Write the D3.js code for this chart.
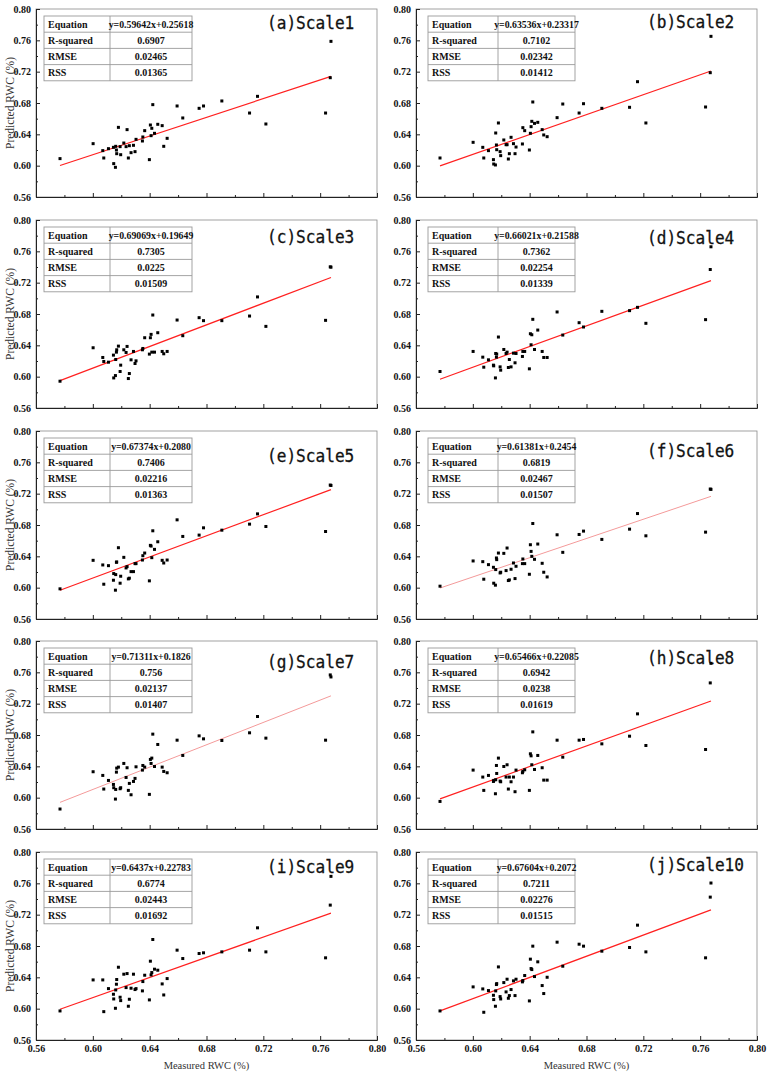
<!DOCTYPE html>
<html>
<head>
<meta charset="utf-8">
<script src="https://cdn.jsdelivr.net/npm/d3@7"></script>
<style>
  body { margin: 0; background: #fff; }
</style>
</head>
<body>
<svg id="chart"></svg>
<script>
// measured RWC, shared by all ten panels
const measured = [0.5769, 0.6002, 0.6070, 0.6077, 0.6110, 0.6145, 0.6147, 0.6159, 0.6161, 0.6166,
  0.6168, 0.6180, 0.6192, 0.6196, 0.6218, 0.6234, 0.6241, 0.6250, 0.6257, 0.6269,
  0.6286, 0.6297, 0.6304, 0.6349, 0.6352, 0.6365, 0.6398, 0.6405, 0.6410, 0.6415,
  0.6422, 0.6434, 0.6457, 0.6488, 0.6499, 0.6523, 0.6593, 0.6633, 0.6748, 0.6779,
  0.6908, 0.7103, 0.7159, 0.7218, 0.7638, 0.7671, 0.7676]

// predicted RWC per scale
const predA = [0.6090, 0.6281, 0.6192, 0.6098, 0.6217, 0.6234, 0.6026, 0.5979, 0.6247, 0.6200,
  0.6153, 0.6489, 0.6243, 0.6140, 0.6289, 0.6243, 0.6460, 0.6098, 0.6255, 0.6166,
  0.6260, 0.6179, 0.6336, 0.6315, 0.6366, 0.6447, 0.6077, 0.6519, 0.6383, 0.6477,
  0.6779, 0.6413, 0.6528, 0.6511, 0.6247, 0.6349, 0.6762, 0.6609, 0.6732, 0.6762,
  0.6826, 0.6672, 0.6885, 0.6532, 0.6672, 0.7123, 0.7587]
const predB = [0.6098, 0.6298, 0.6234, 0.6098, 0.6192, 0.6077, 0.6021, 0.6009, 0.6417, 0.6264,
  0.6204, 0.6545, 0.6179, 0.6128, 0.6328, 0.6268, 0.6268, 0.6085, 0.6153, 0.6362,
  0.6281, 0.6153, 0.6238, 0.6277, 0.6485, 0.6447, 0.6200, 0.6413, 0.6498, 0.6566,
  0.6813, 0.6540, 0.6553, 0.6460, 0.6392, 0.6370, 0.6613, 0.6787, 0.6672, 0.6791,
  0.6732, 0.6745, 0.7072, 0.6545, 0.6749, 0.7187, 0.7651]
const predC = [0.5942, 0.6369, 0.6245, 0.6194, 0.6185, 0.6275, 0.5984, 0.6014, 0.6219, 0.6313,
  0.6343, 0.6390, 0.6066, 0.6147, 0.6343, 0.6309, 0.6386, 0.5976, 0.6040, 0.6215,
  0.6322, 0.6168, 0.6202, 0.6343, 0.6360, 0.6497, 0.6288, 0.6497, 0.6540, 0.6313,
  0.6787, 0.6313, 0.6561, 0.6322, 0.6292, 0.6322, 0.6723, 0.6523, 0.6753, 0.6715,
  0.6715, 0.6774, 0.7018, 0.6642, 0.6719, 0.7402, 0.7398]
const predD = [0.6066, 0.6322, 0.6249, 0.6121, 0.6215, 0.6147, 0.6138, 0.5984, 0.6296, 0.6249,
  0.6288, 0.6506, 0.6125, 0.6083, 0.6347, 0.6296, 0.6313, 0.6117, 0.6219, 0.6125,
  0.6300, 0.6177, 0.6296, 0.6258, 0.6322, 0.6322, 0.6100, 0.6548, 0.6407, 0.6535,
  0.6732, 0.6347, 0.6595, 0.6322, 0.6245, 0.6245, 0.6826, 0.6531, 0.6689, 0.6634,
  0.6834, 0.6843, 0.6885, 0.6681, 0.6728, 0.7368, 0.7658]
const predE = [0.5985, 0.6349, 0.6290, 0.6044, 0.6281, 0.6095, 0.6180, 0.5968, 0.6167, 0.6324,
  0.6328, 0.6510, 0.6057, 0.6146, 0.6387, 0.6252, 0.6269, 0.6112, 0.6121, 0.6205,
  0.6205, 0.6307, 0.6307, 0.6353, 0.6408, 0.6442, 0.6087, 0.6540, 0.6531, 0.6383,
  0.6726, 0.6489, 0.6586, 0.6349, 0.6315, 0.6353, 0.6866, 0.6654, 0.6671, 0.6764,
  0.6734, 0.6811, 0.6942, 0.6781, 0.6717, 0.7310, 0.7305]
const predF = [0.6019, 0.6341, 0.6332, 0.6108, 0.6294, 0.6260, 0.6057, 0.6032, 0.6231, 0.6379,
  0.6358, 0.6442, 0.6188, 0.6197, 0.6438, 0.6218, 0.6506, 0.6091, 0.6099, 0.6235,
  0.6315, 0.6116, 0.6273, 0.6307, 0.6366, 0.6307, 0.6171, 0.6548, 0.6463, 0.6400,
  0.6819, 0.6362, 0.6557, 0.6311, 0.6197, 0.6137, 0.6675, 0.6451, 0.6679, 0.6722,
  0.6616, 0.6747, 0.6946, 0.6662, 0.6709, 0.7259, 0.7255]
const predG = [0.5855, 0.6331, 0.6284, 0.6110, 0.6220, 0.6169, 0.6127, 0.5982, 0.6105, 0.6326,
  0.6377, 0.6390, 0.6114, 0.6127, 0.6437, 0.6258, 0.6382, 0.6093, 0.6182, 0.6037,
  0.6207, 0.6246, 0.6394, 0.6352, 0.6411, 0.6390, 0.6042, 0.6488, 0.6437, 0.6505,
  0.6811, 0.6398, 0.6679, 0.6390, 0.6335, 0.6318, 0.6734, 0.6539, 0.6789, 0.6751,
  0.6730, 0.6828, 0.7036, 0.6760, 0.6734, 0.7567, 0.7541]
const predH = [0.5952, 0.6352, 0.6263, 0.6093, 0.6284, 0.6207, 0.6220, 0.6050, 0.6229, 0.6411,
  0.6309, 0.6505, 0.6212, 0.6203, 0.6398, 0.6263, 0.6420, 0.6110, 0.6263, 0.6203,
  0.6263, 0.6076, 0.6352, 0.6318, 0.6335, 0.6356, 0.6093, 0.6560, 0.6534, 0.6420,
  0.6840, 0.6360, 0.6539, 0.6382, 0.6224, 0.6224, 0.6734, 0.6517, 0.6734, 0.6743,
  0.6687, 0.6785, 0.7070, 0.6666, 0.6615, 0.7465, 0.7715]
const predI = [0.5971, 0.6367, 0.6367, 0.5962, 0.6256, 0.6184, 0.6124, 0.6005, 0.6239, 0.6312,
  0.6372, 0.6529, 0.6146, 0.6103, 0.6440, 0.6269, 0.6448, 0.6031, 0.6120, 0.6261,
  0.6440, 0.6244, 0.6256, 0.6227, 0.6346, 0.6427, 0.6112, 0.6606, 0.6431, 0.6461,
  0.6883, 0.6504, 0.6491, 0.6316, 0.6175, 0.6384, 0.6747, 0.6640, 0.6704, 0.6713,
  0.6725, 0.6747, 0.7032, 0.6725, 0.6649, 0.7322, 0.7689]
const predJ = [0.5971, 0.6278, 0.6252, 0.5954, 0.6231, 0.6171, 0.6116, 0.6031, 0.6227, 0.6308,
  0.6320, 0.6533, 0.6154, 0.6124, 0.6333, 0.6214, 0.6376, 0.6133, 0.6167, 0.6244,
  0.6355, 0.6167, 0.6376, 0.6342, 0.6359, 0.6423, 0.6099, 0.6632, 0.6512, 0.6499,
  0.6798, 0.6410, 0.6598, 0.6295, 0.6193, 0.6401, 0.6849, 0.6542, 0.6823, 0.6798,
  0.6734, 0.6781, 0.7066, 0.6725, 0.6649, 0.7424, 0.7604]

const panelTags = ['a', 'b', 'c', 'd', 'e', 'f', 'g', 'h', 'i', 'j']
const scaleNames = ['Scale1', 'Scale2', 'Scale3', 'Scale4', 'Scale5',
  'Scale6', 'Scale7', 'Scale8', 'Scale9', 'Scale10']
const slopes = ['0.59642', '0.63536', '0.69069', '0.66021', '0.67374',
  '0.61381', '0.71311', '0.65466', '0.6437', '0.67604']
const intercepts = ['0.25618', '0.23317', '0.19649', '0.21588', '0.2080',
  '0.2454', '0.1826', '0.22085', '0.22783', '0.2072']
const rSquared = ['0.6907', '0.7102', '0.7305', '0.7362', '0.7406',
  '0.6819', '0.756', '0.6942', '0.6774', '0.7211']
const rmse = ['0.02465', '0.02342', '0.0225', '0.02254', '0.02216',
  '0.02467', '0.02137', '0.0238', '0.02443', '0.02276']
const rss = ['0.01365', '0.01412', '0.01509', '0.01339', '0.01363',
  '0.01507', '0.01407', '0.01619', '0.01692', '0.01515']

const majorTicks = [0.56, 0.60, 0.64, 0.68, 0.72, 0.76, 0.80]
const minorTicks = [0.58, 0.62, 0.66, 0.70, 0.74, 0.78]

const predicted = [predA, predB, predC, predD, predE, predF, predG, predH, predI, predJ]

// layout
const global_width = 770, global_height = 1076
const plotW = 341, plotH = 188
const colX = [36, 416]
const rowY = [9, 220, 431, 641, 852]
const tableLeft = [8, 12], tableSplit = [66, 70], tableW = [148, 147]
const rowH = 16.2
const labelDy = [20, 19, 23, 24, 31, 26, 27, 23, 21, 19]
const serif = '"Liberation Serif", "Times New Roman", serif'

const svg = d3.select('#chart')
  .attr('width', global_width)
  .attr('height', global_height)

const xScale = d3.scaleLinear().domain([0.56, 0.80]).range([0, plotW])
const yScale = d3.scaleLinear().domain([0.56, 0.80]).range([plotH, 0])
const xExtent = d3.extent(measured)

const styleAxis = (g, labels) => {
  g.select('.domain').attr('stroke', '#222')
  g.selectAll('.tick line').attr('stroke', '#222')
  g.selectAll('.tick text')
    .attr('font-family', serif)
    .attr('font-weight', 'bold')
    .attr('font-size', '10px')
    .attr('fill', '#111')
  if (!labels) g.selectAll('.tick text').remove()
}

predicted.forEach((pred, i) => {
  const col = i % 2, row = Math.floor(i / 2)
  const plot = svg.append('g')
    .attr('transform', `translate(${colX[col]},${rowY[row]})`)

  // frame
  plot.append('rect')
    .attr('width', plotW)
    .attr('height', plotH)
    .attr('fill', 'none')
    .attr('stroke', '#8a8a8a')
    .attr('stroke-width', 0.8)

  // y axis, ticks pointing inward
  plot.append('g')
    .call(d3.axisLeft(yScale).tickValues(minorTicks).tickSize(-2).tickSizeOuter(0).tickFormat(''))
    .call(g => styleAxis(g, false))
  plot.append('g')
    .call(d3.axisLeft(yScale).tickValues(majorTicks).tickSize(-4).tickSizeOuter(0)
      .tickPadding(5).tickFormat(d3.format('.2f')))
    .call(g => styleAxis(g, true))

  // x axis
  const bottom = row === rowY.length - 1
  plot.append('g')
    .attr('transform', `translate(0,${plotH})`)
    .call(d3.axisBottom(xScale).tickValues(minorTicks).tickSize(-2).tickSizeOuter(0).tickFormat(''))
    .call(g => styleAxis(g, false))
  plot.append('g')
    .attr('transform', `translate(0,${plotH})`)
    .call(d3.axisBottom(xScale).tickValues(majorTicks).tickSize(-4).tickSizeOuter(0)
      .tickPadding(5).tickFormat(d3.format('.2f')))
    .call(g => styleAxis(g, bottom))

  if (col === 0) {
    plot.append('text')
      .attr('transform', 'rotate(-90)')
      .attr('x', -plotH / 2)
      .attr('y', -22)
      .attr('text-anchor', 'middle')
      .attr('font-family', serif)
      .attr('font-size', '11.5px')
      .attr('fill', '#333')
      .text('Predicted RWC (%)')
  }
  if (bottom) {
    plot.append('text')
      .attr('x', plotW / 2)
      .attr('y', plotH + 29)
      .attr('text-anchor', 'middle')
      .attr('font-family', serif)
      .attr('font-size', '10.5px')
      .attr('fill', '#333')
      .text('Measured RWC (%)')
  }

  // statistics table
  const rows = [
    ['Equation', `y=${slopes[i]}x+${intercepts[i]}`],
    ['R-squared', rSquared[i]],
    ['RMSE', rmse[i]],
    ['RSS', rss[i]]
  ]
  const table = plot.append('g')
    .attr('transform', `translate(${tableLeft[col]},7)`)
  table.append('rect')
    .attr('width', tableW[col])
    .attr('height', rowH * rows.length)
    .attr('fill', '#fff')
    .attr('stroke', '#9a9a9a')
    .attr('stroke-width', 0.9)
  table.append('line')
    .attr('x1', tableSplit[col]).attr('x2', tableSplit[col])
    .attr('y1', 0).attr('y2', rowH * rows.length)
    .attr('stroke', '#9a9a9a').attr('stroke-width', 0.9)
  rows.forEach((r, k) => {
    if (k > 0) {
      table.append('line')
        .attr('x1', 0).attr('x2', tableW[col])
        .attr('y1', rowH * k).attr('y2', rowH * k)
        .attr('stroke', '#9a9a9a').attr('stroke-width', 0.9)
    }
    table.append('text')
      .attr('x', 4)
      .attr('y', rowH * k + rowH / 2 + 3.6)
      .attr('font-family', serif)
      .attr('font-weight', 'bold')
      .attr('font-size', '10px')
      .attr('fill', '#111')
      .text(r[0])
    table.append('text')
      .attr('x', (tableSplit[col] + tableW[col]) / 2)
      .attr('y', rowH * k + rowH / 2 + 3.6)
      .attr('text-anchor', 'middle')
      .attr('font-family', serif)
      .attr('font-weight', 'bold')
      .attr('font-size', k === 0 ? '9.8px' : '10px')
      .attr('fill', '#111')
      .text(r[1])
  })

  // panel label
  const label = `(${panelTags[i]})${scaleNames[i]}`
  plot.append('text')
    .attr('x', 231)
    .attr('y', labelDy[i])
    .attr('font-family', '"DejaVu Sans Mono", monospace')
    .attr('font-size', '18px')
    .attr('textLength', label.length * 9.7)
    .attr('lengthAdjust', 'spacingAndGlyphs')
    .attr('fill', '#111')
    .attr('stroke', '#111')
    .attr('stroke-width', 0.3)
    .text(label)

  // fitted line
  const faint = panelTags[i] === 'f' || panelTags[i] === 'g'
  const line = d3.line()
    .x(d => xScale(d))
    .y(d => yScale(+slopes[i] * d + +intercepts[i]))
  plot.append('path')
    .datum(xExtent)
    .attr('d', line)
    .attr('fill', 'none')
    .attr('stroke', faint ? '#f49a9a' : '#ff2020')
    .attr('stroke-width', faint ? 1 : 1.2)

  // points
  plot.append('g')
    .selectAll('rect')
    .data(measured.map((m, k) => [m, pred[k]]))
    .enter()
    .append('rect')
    .attr('x', d => xScale(d[0]) - 1.5)
    .attr('y', d => yScale(d[1]) - 1.5)
    .attr('width', 3)
    .attr('height', 3)
    .attr('fill', '#000')
})
</script>
</body>
</html>
